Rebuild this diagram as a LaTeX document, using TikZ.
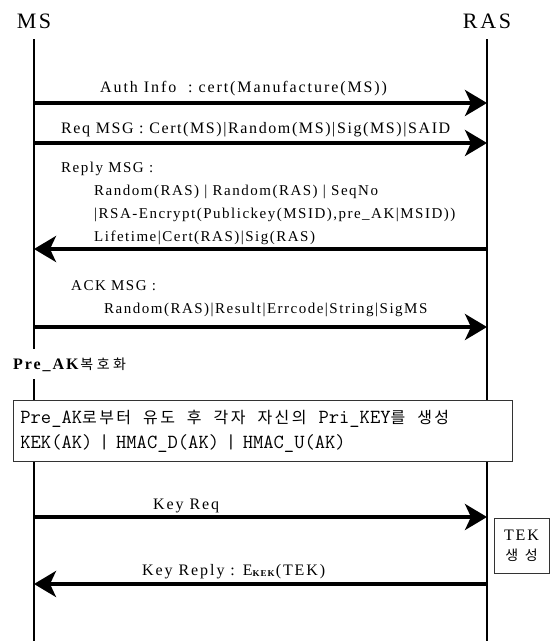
\documentclass[tikz,border=0pt]{standalone}
\usepackage{fontspec}
\setmainfont{Liberation Serif}
\newfontfamily\msgfont{Liberation Serif}[LetterSpace=12]
\newfontfamily\bodyfont{Liberation Serif}[LetterSpace=10]
\newfontfamily\krfont{Noto Sans CJK KR}[LetterSpace=25]
\newfontfamily\krboxfont{Noto Sans CJK KR}[LetterSpace=15]
\newcommand{\kr}[1]{{\krfont\fontsize{14}{16}\selectfont #1}}
\newcommand{\krb}[1]{{\krboxfont\fontsize{16}{16}\selectfont #1}}
\newcommand{\wsp}{\hspace{12pt}}
\usetikzlibrary{arrows.meta}

\begin{document}
\begin{tikzpicture}[x=1pt,y=-1pt,
	lifeline/.style={line width=2pt},
	msg/.style={line width=3.5pt,-{Stealth[length=22pt,width=26pt,inset=6pt]}},
	entity/.style={anchor=base,inner sep=0pt,font=\msgfont\fontsize{22}{24}\selectfont},
	lbl/.style={anchor=base west,inner sep=0pt,font=\msgfont\fontsize{16}{18}\selectfont},
	body/.style={lbl,align=left,font=\bodyfont\fontsize{15}{23}\selectfont},
	note/.style={draw=black!80,fill=white,line width=0.8pt}]
	\useasboundingbox (0,0) rectangle (557,641);
	\node[entity] (ms) at (34,28) {MS};
	\node[entity] (ras) at (487,28) {RAS};
	\coordinate (bot) at (0,641);
	\draw[lifeline] ([yshift=-11pt]ms.base) -- (ms |- bot);
	\draw[lifeline] ([yshift=-11pt]ras.base) -- (ras |- bot);

	\node[lbl] (auth) at (100,92) {Auth\ Info\ \ :\ cert(Manufacture(MS))};
	\draw[msg] (ms |- 0,103) -- (ras |- 0,103);
	\node[lbl] (req) at (61,133) {\addfontfeature{LetterSpace=10}Req MSG : Cert(MS)|Random(MS)|Sig(MS)|SAID};
	\draw[msg] (ms |- 0,143) -- (ras |- 0,143);
	% base of a multi-line node = last line
	\node[body] (reply) at (61,241) {Reply MSG :\\
		\hspace*{33pt}Random(RAS) | Random(RAS) | SeqNo\\
		\hspace*{33pt}|RSA-Encrypt(Publickey(MSID),pre\_AK|MSID))\\
		\hspace*{33pt}Lifetime|Cert(RAS)|Sig(RAS)};
	\draw[msg] (ras |- 0,249) -- (ms |- 0,249);
	\node[body] (ack) at (71,313) {ACK MSG :\\
		\hspace*{33pt}Random(RAS)|Result|Errcode|String|SigMS};
	\draw[msg] (ms |- 0,327) -- (ras |- 0,327);

	\node[anchor=base west,fill=white,inner xsep=0pt,inner ysep=8pt,font=\msgfont\fontsize{16}{18}\selectfont] (dec) at (13,369) {\textbf{Pre\_AK}\kr{복호화}};
	\node[note,anchor=north west,minimum width=499pt,minimum height=61pt,inner xsep=7pt,text width=485pt,align=left,font=\ttfamily\fontsize{20}{25}\selectfont] (derive) at (13,400)
		{Pre\_AK\krb{로부터}\wsp\krb{유도}\wsp\krb{후}\wsp\krb{각자}\wsp\krb{자신의}\wsp Pri\_KEY\krb{를}\wsp\krb{생성}\\KEK(AK) | HMAC\_D(AK) | HMAC\_U(AK)};

	\node[lbl] (keyreq) at (153,509) {Key Req};
	\draw[msg] (ms |- 0,517) -- (ras |- 0,517);
	\node[note,minimum width=55pt,minimum height=55pt,inner sep=2pt,align=center,font=\msgfont\fontsize{16}{20}\selectfont] (tek) at (521.5,545.5) {TEK\\\kr{생 성}};
	\node[lbl] (keyreply) at (142,575) {Key Reply : E\raisebox{-1.5pt}{\fontsize{9}{9}\selectfont\textbf{KEK}}(TEK)};
	\draw[msg] (ras |- 0,584) -- (ms |- 0,584);
\end{tikzpicture}
\end{document}
